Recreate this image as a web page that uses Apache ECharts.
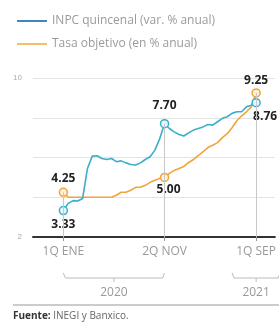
<!DOCTYPE html>
<html>
<head>
<meta charset="utf-8">
<script src="https://cdn.jsdelivr.net/npm/echarts@6/dist/echarts.min.js"></script>
<style>
  html, body { margin: 0; padding: 0; background: #fff; }
  #main { width: 279px; height: 322px; }
</style>
</head>
<body>
<div id="main"></div>
<script>
// quincenas desde 1Q ENE (indice 0) hasta 1Q SEP (indice 40)
var inpc = [3.33, 3.69, 3.83, 3.81, 3.94, 5.45, 6.07, 6.09, 5.95, 5.9,
  5.95, 5.79, 5.83, 5.73, 5.65, 5.62, 5.73, 5.9, 6.04, 6.37,
  6.95, 7.70, 7.46, 7.29, 7.16, 7.08, 7.24, 7.38, 7.46, 7.54,
  7.66, 7.63, 7.8, 7.97, 8.05, 8.22, 8.3, 8.3, 8.55, 8.63, 8.76];
var tasa = [4.25, 4.0, 4.0, 4.0, 4.0, 4.0, 4.0, 4.0, 4.0, 4.0,
  4.0, 4.1, 4.25, 4.25, 4.35, 4.5, 4.5, 4.6, 4.75, 4.85,
  4.95, 5.00, 5.2, 5.35, 5.45, 5.55, 5.75, 5.9, 6.1, 6.29,
  6.5, 6.62, 6.75, 7.0, 7.2, 7.5, 7.85, 8.1, 8.3, 8.55, 9.25];
var tickIdx = [0, 21, 40];
var tickLabels = ["1Q ENE", "2Q NOV", "1Q SEP"];
var years = ["2020", "2021"];
var yearSpans = [[0, 21], [35, 45]];
var yearCenters = [10.5, 40];

var blue = "#3aaecb";
var orange = "#f2a33a";

var chart = echarts.init(document.getElementById("main"));

var labelStyle = {
  show: true,
  color: "#222",
  fontWeight: "bold",
  fontSize: 12,
  fontFamily: "Open Sans",
  formatter: function (p) {
    return p.value[1].toFixed(2);
  }
};

function buildData(values, marks) {
  return values.map(function (v, i) {
    var item = { value: [i, v] };
    if (marks[i]) {
      item.symbol = "circle";
      item.symbolSize = 8;
      item.label = Object.assign({}, labelStyle, marks[i]);
    }
    return item;
  });
}

var inpcMarks = {
  0: { position: "bottom", distance: 3 },
  21: { position: "top", distance: 7 },
  40: { position: "bottom", offset: [9, 1], distance: 2 }
};
var tasaMarks = {
  0: { position: "top", distance: 3 },
  21: { position: "bottom", offset: [4, 0], distance: 1 },
  40: { position: "top", distance: 2 }
};

var option = {
  animation: false,
  legend: {
    orient: "vertical",
    left: 12,
    top: 10,
    itemWidth: 30,
    itemHeight: 2,
    itemGap: 11,
    icon: "rect",
    textStyle: { color: "#9a9a9a", fontSize: 12, fontFamily: "Liberation Sans Narrow, Open Sans" },
    data: [
      {
        name: "INPC quincenal (var. % anual)",
        itemStyle: { color: "#3e86bd", borderWidth: 0 }
      },
      {
        name: "Tasa objetivo (en % anual)",
        itemStyle: { color: "#f3c06a", borderWidth: 0 }
      }
    ]
  },
  grid: { left: 33, right: 0, top: 78, bottom: 85 },
  xAxis: {
    type: "value",
    min: -6.3,
    max: 43.9,
    splitLine: { show: false },
    axisLine: { show: true, onZero: false, lineStyle: { color: "#333", width: 2 } },
    axisTick: {
      show: true,
      customValues: tickIdx,
      length: 4,
      lineStyle: { color: "#999" }
    },
    axisLabel: {
      customValues: tickIdx,
      color: "#999",
      fontSize: 12,
      fontFamily: "Liberation Sans Narrow, Open Sans",
      margin: 9,
      formatter: function (v) {
        return tickLabels[tickIdx.indexOf(v)];
      }
    }
  },
  yAxis: {
    type: "value",
    min: 2,
    max: 10,
    interval: 2,
    axisLine: { show: false },
    axisTick: { show: false },
    splitLine: { lineStyle: { color: "#e4e4e4" } },
    axisLabel: {
      color: "#aaa",
      fontSize: 8,
      margin: 11,
      formatter: function (v) {
        return v === 2 || v === 10 ? v : "";
      }
    }
  },
  series: [
    {
      name: "INPC quincenal (var. % anual)",
      type: "line",
      data: buildData(inpc, inpcMarks),
      symbol: "none",
      showSymbol: true,
      color: blue,
      lineStyle: { color: blue, width: 1.6 },
      itemStyle: { color: "#e9f7fb", borderColor: blue, borderWidth: 1.5 },
      z: 3,
      markLine: {
        silent: true,
        symbol: "none",
        label: { show: false },
        lineStyle: { color: "#c8c8c8", width: 1, type: "solid" },
        data: tickIdx.map(function (i) {
          var top = Math.max(inpc[i], tasa[i]);
          return [{ coord: [i, top] }, { coord: [i, 2] }];
        })
      }
    },
    {
      name: "Tasa objetivo (en % anual)",
      type: "line",
      data: buildData(tasa, tasaMarks),
      symbol: "none",
      showSymbol: true,
      color: orange,
      lineStyle: { color: orange, width: 1.6 },
      itemStyle: { color: "#fdf0dc", borderColor: orange, borderWidth: 1.5 },
      z: 2
    }
  ]
};

chart.setOption(option);

// llaves de los años y fuente
var axisY = chart.convertToPixel({ gridIndex: 0 }, [0, 2])[1];
var graphics = [];
yearSpans.forEach(function (span, k) {
  var x1 = chart.convertToPixel({ gridIndex: 0 }, [span[0], 2])[0];
  var x2 = chart.convertToPixel({ gridIndex: 0 }, [span[1], 2])[0];
  var xc = chart.convertToPixel({ gridIndex: 0 }, [yearCenters[k], 2])[0];
  var yb = axisY + 41;
  graphics.push({
    type: "polyline",
    silent: true,
    shape: { points: [[x1, yb - 5], [x1 + 2, yb], [x2 - 2, yb], [x2, yb - 5]] },
    style: { stroke: "#bbb", lineWidth: 1, fill: null }
  });
  graphics.push({
    type: "line",
    silent: true,
    shape: { x1: xc, y1: yb, x2: xc, y2: yb + 4 },
    style: { stroke: "#bbb", lineWidth: 1 }
  });
  graphics.push({
    type: "text",
    silent: true,
    x: xc,
    y: yb + 15,
    style: {
      text: years[k],
      fill: "#999",
      fontSize: 12,
      fontFamily: "Liberation Sans Narrow, Open Sans",
      align: "center",
      verticalAlign: "middle"
    }
  });
});
graphics.push({
  type: "line",
  silent: true,
  shape: { x1: 13, y1: 305, x2: 279, y2: 305 },
  style: { stroke: "#999", lineWidth: 1 }
});
graphics.push({
  type: "text",
  silent: true,
  left: 13,
  top: 311,
  style: {
    text: "{b|Fuente:} INEGI y Banxico.",
    fill: "#666",
    fontSize: 10,
    fontFamily: "Open Sans",
    rich: { b: { fontWeight: "bold", fontSize: 10, fill: "#333", fontFamily: "Open Sans" } }
  }
});
chart.setOption({ graphic: graphics });
</script>
</body>
</html>
